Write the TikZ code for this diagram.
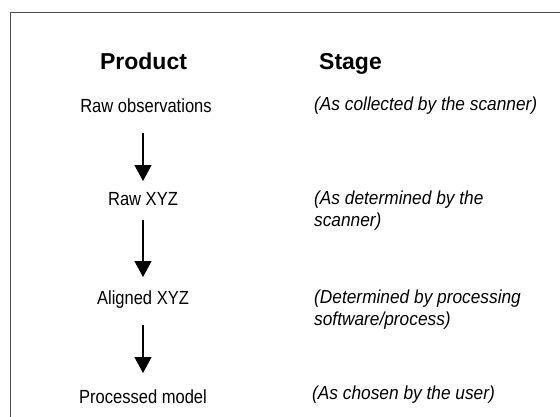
\documentclass[tikz,border=0pt]{standalone}
\usepackage{fontspec}
\setmainfont{Liberation Sans}
\newfontfamily\narrowfont[FakeStretch=0.87]{Liberation Sans}
\newfontfamily\narrowital[FakeStretch=0.92]{Liberation Sans Italic}
\usetikzlibrary{arrows.meta}
\tikzset{
  head/.style={font=\fontsize{23}{27}\selectfont\bfseries, inner sep=0pt},
  prod/.style={font=\narrowfont\fontsize{19}{22}\selectfont, inner sep=0pt},
  stagetxt/.style={font=\narrowital\fontsize{18.8}{22}\selectfont, inner sep=0pt, anchor=west, align=left},
  flow/.style={line width=1.4pt, -{Triangle[length=16pt,width=17pt]}},
}
\begin{document}
\begin{tikzpicture}[x=1pt,y=-1pt]
\useasboundingbox (0,0) rectangle (560,416);
\fill[white] (0,0) rectangle (560,416);
\draw[line width=1.5pt, color=black!70] (10.5,420) -- (10.5,12.5) -- (565,12.5);
\node[head, anchor=base] (hp) at (143.5,69) {Product};
\node[head, anchor=base west] (hs) at (319,69) {Stage};
\node[prod] (p1) at (146,106) {Raw observations};
\node[prod] (p2) at (143,199) {Raw XYZ};
\node[prod] (p3) at (143,300) {Aligned XYZ};
\node[prod] (p4) at (143,397) {Processed model};
\node[stagetxt] (s1) at (314,106) {(As collected by the scanner)};
\node[stagetxt] (s2) at (314,211) {(As determined by the\\scanner)};
\node[stagetxt] (s3) at (314,310) {(Determined by processing\\software/process)};
\node[stagetxt] (s4) at (312,395) {(As chosen by the user)};
\coordinate (a1s) at (143,133);
\coordinate (a1e) at (143,181);
\coordinate (a2s) at (143,220);
\coordinate (a2e) at (143,277);
\coordinate (a3s) at (143,325);
\coordinate (a3e) at (143,373);
\draw[flow] (a1s) -- (a1e);
\draw[flow] (a2s) -- (a2e);
\draw[flow] (a3s) -- (a3e);
\end{tikzpicture}
\end{document}
